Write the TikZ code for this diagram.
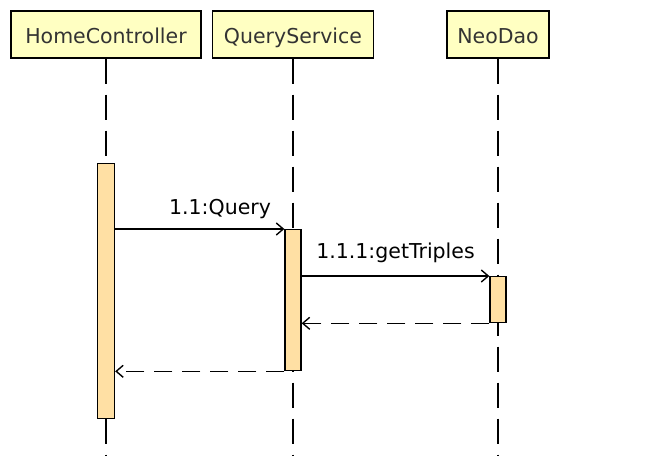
\documentclass[tikz,border=0pt]{standalone}
\usepackage{fontspec}
\setmainfont{DejaVu Sans}
\usetikzlibrary{arrows.meta, positioning}

\definecolor{headfill}{RGB}{255,255,194}
\definecolor{actfill}{RGB}{255,224,164}
\definecolor{headtext}{RGB}{51,51,51}

\begin{document}
\begin{tikzpicture}[x=1pt, y=-1pt,
  every node/.style={font=\fontsize{20.5}{24}\selectfont},
  head/.style={draw, line width=1.6pt, fill=headfill, text=headtext,
    minimum height=47pt, inner sep=0pt, text height=19pt, text depth=0pt,
    anchor=north},
  act/.style={draw, line width=1.3pt, fill=actfill, minimum width=16pt,
    inner sep=0pt, anchor=north},
  life/.style={line width=1.7pt, dash pattern=on 25pt off 11pt},
  msg/.style={line width=1.4pt, -{Straight Barb[length=7pt,width=12pt]}},
  ret/.style={msg, dash pattern=on 18pt off 10pt},
  lbl/.style={anchor=base, inner sep=0pt}]

  \useasboundingbox (0,0) rectangle (664,456);

  % lifeline heads
  \node[head, minimum width=190pt] (HC) at (106,10) {HomeController};
  \node[head, minimum width=161pt] (QS) at (293,10) {QueryService};
  \node[head, minimum width=102pt] (ND) at (498,10) {NeoDao};

  % lifelines
  \coordinate (HCend) at (HC.south |- 0,456);
  \coordinate (QSend) at (QS.south |- 0,456);
  \coordinate (NDend) at (ND.south |- 0,456);
  \draw[life] (HC.south) -- (HCend);
  \draw[life] (QS.south) -- (QSend);
  \draw[life] (ND.south) -- (NDend);

  % activations
  \node[act, minimum width=17pt, minimum height=255pt] (HCact) at (HC.south |- 0,163) {};
  \node[act, minimum height=141pt] (QSact) at (QS.south |- 0,229) {};
  \node[act, minimum height=46pt] (NDact) at (ND.south |- 0,276) {};

  % messages
  \draw[msg] (HCact.east |- QSact.north) -- node[lbl, pos=.62, yshift=15pt]{1.1:Query} (QSact.north west);
  \draw[msg] (QSact.east |- NDact.north) -- node[lbl, yshift=18pt]{1.1.1:getTriples} (NDact.north west);
  \draw[ret] (NDact.south west) -- (QSact.east |- NDact.south);
  \draw[ret] (QSact.south west) -- (HCact.east |- QSact.south);

\end{tikzpicture}
\end{document}
